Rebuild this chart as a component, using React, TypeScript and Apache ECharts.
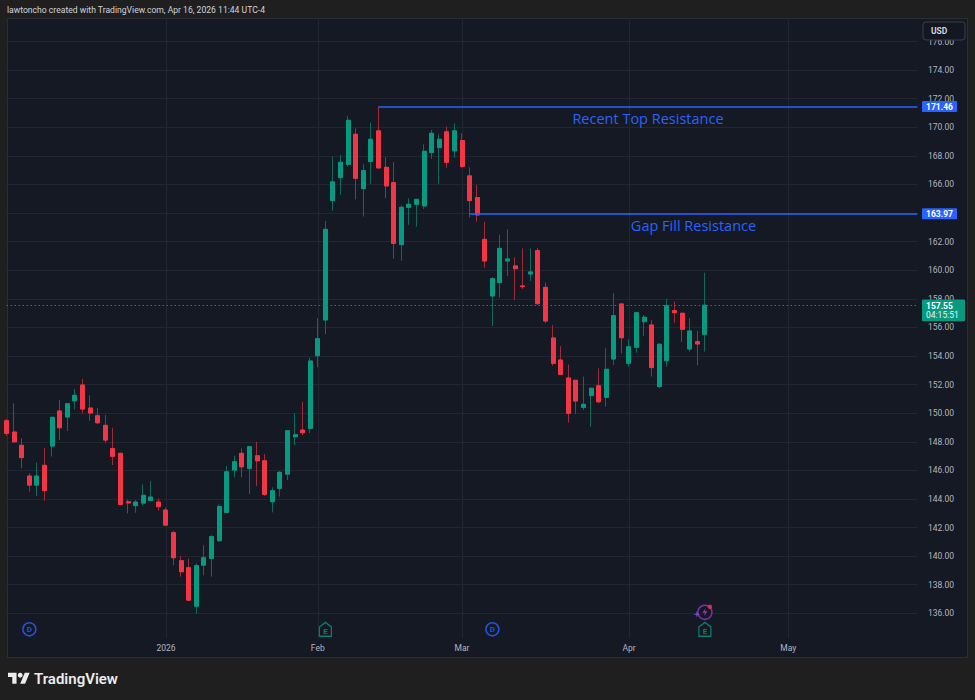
import React, { useEffect, useRef } from 'react';
import * as echarts from 'echarts';

// ---------- data ----------
const candleDates = [
  '2025-12-02','2025-12-03','2025-12-04','2025-12-05','2025-12-08','2025-12-09','2025-12-10','2025-12-11','2025-12-12',
  '2025-12-15','2025-12-16','2025-12-17','2025-12-18','2025-12-19','2025-12-22','2025-12-23','2025-12-24','2025-12-26',
  '2025-12-29','2025-12-30','2025-12-31',
  '2026-01-02','2026-01-05','2026-01-06','2026-01-07','2026-01-08','2026-01-09','2026-01-12','2026-01-13','2026-01-14',
  '2026-01-15','2026-01-16','2026-01-20','2026-01-21','2026-01-22','2026-01-23','2026-01-26','2026-01-27','2026-01-28',
  '2026-01-29','2026-01-30',
  '2026-02-02','2026-02-03','2026-02-04','2026-02-05','2026-02-06','2026-02-09','2026-02-10','2026-02-11','2026-02-12',
  '2026-02-13','2026-02-17','2026-02-18','2026-02-19','2026-02-20','2026-02-23','2026-02-24','2026-02-25','2026-02-26',
  '2026-02-27',
  '2026-03-02','2026-03-03','2026-03-04','2026-03-05','2026-03-06','2026-03-09','2026-03-10','2026-03-11','2026-03-12',
  '2026-03-13','2026-03-16','2026-03-17','2026-03-18','2026-03-19','2026-03-20','2026-03-23','2026-03-24','2026-03-25',
  '2026-03-26','2026-03-27','2026-03-30','2026-03-31',
  '2026-04-01','2026-04-02','2026-04-06','2026-04-07','2026-04-08','2026-04-09','2026-04-10','2026-04-13','2026-04-14',
  '2026-04-15','2026-04-16'
];
const futureDates = [
  '2026-04-17','2026-04-20','2026-04-21','2026-04-22','2026-04-23','2026-04-24','2026-04-27','2026-04-28','2026-04-29',
  '2026-04-30','2026-05-01','2026-05-04','2026-05-05','2026-05-06','2026-05-07','2026-05-08','2026-05-11','2026-05-12',
  '2026-05-13','2026-05-14','2026-05-15','2026-05-18','2026-05-19','2026-05-20','2026-05-21','2026-05-22','2026-05-26',
  '2026-05-27'
];
const opens = [
  149.47,148.68,147.75,145.60,144.97,146.35,147.70,150.15,149.73,150.87,151.97,150.36,149.82,149.15,147.52,147.19,143.80,143.53,143.71,143.90,143.78,
  143.22,141.64,139.68,139.19,136.50,139.37,139.84,141.08,143.06,146.02,147.19,146.14,147.02,146.67,143.81,144.74,145.74,148.35,148.82,148.94,
  154.02,156.52,164.87,166.48,167.41,169.51,165.71,167.60,169.75,167.20,166.13,161.79,164.40,164.61,164.50,168.23,168.58,169.68,168.35,
  169.07,166.60,165.08,162.16,158.20,159.13,160.65,160.30,158.90,159.74,161.37,158.80,155.26,153.72,152.46,152.30,150.41,151.23,151.92,151.11,153.79,157.64,
  153.49,154.61,156.40,156.17,151.86,153.67,157.17,156.99,154.49,155.00,155.52
];
const closes = [
  148.59,148.00,146.89,144.97,145.60,144.58,149.71,148.98,150.66,151.25,150.29,150.01,149.33,148.12,146.98,143.62,143.72,143.78,144.25,144.13,143.46,
  142.17,139.89,138.91,136.92,139.33,139.89,141.36,143.46,145.90,146.60,146.25,147.65,146.67,144.32,144.57,145.86,148.77,148.49,148.63,153.65,
  155.21,162.86,166.18,167.55,170.49,166.43,166.97,169.16,167.16,165.90,161.88,164.40,164.61,164.96,168.32,169.58,169.16,167.55,169.75,
  167.25,164.87,163.87,160.65,159.41,161.53,160.79,160.11,158.85,159.88,157.66,156.45,153.49,152.72,149.99,150.85,150.62,151.74,150.80,153.07,156.82,155.28,
  154.65,157.03,156.71,153.19,154.82,157.52,157.03,155.87,155.75,154.84,157.55
];
const lows = [
  148.40,147.93,146.14,144.51,144.20,143.88,146.96,148.12,148.75,150.27,149.99,149.47,149.24,147.93,146.37,143.55,142.99,143.04,143.57,143.88,143.18,
  142.10,139.37,138.56,136.90,135.99,138.67,138.56,141.00,143.00,145.51,145.51,144.34,144.90,144.20,143.06,144.16,145.32,147.77,148.47,148.59,
  153.21,155.52,164.17,165.27,167.25,164.96,163.75,166.04,167.10,165.03,160.81,160.67,163.17,163.05,164.29,167.79,166.04,167.18,167.88,
  167.18,163.70,163.40,160.18,156.10,158.10,159.60,157.92,158.69,159.25,157.57,156.29,153.32,152.67,149.34,149.94,150.22,149.06,150.69,150.46,153.37,154.19,
  153.26,154.23,155.40,152.56,151.74,153.26,156.33,155.00,154.31,153.35,154.31
];
const highs = [
  149.60,150.69,148.24,145.79,146.54,147.56,149.75,150.92,150.69,151.69,152.39,151.25,150.36,149.87,148.98,147.25,143.97,143.92,145.02,145.25,144.04,
  143.39,141.78,140.00,139.82,139.49,140.77,141.47,143.62,146.30,147.02,147.54,147.70,148.00,147.14,144.81,145.95,148.82,149.99,150.80,153.88,
  156.64,163.45,167.95,168.07,170.80,169.93,167.41,170.33,171.46,167.90,167.55,164.54,165.03,164.98,168.81,169.81,169.51,170.05,170.28,
  169.58,167.20,165.97,163.38,159.50,162.47,162.86,160.90,161.53,161.53,161.56,159.13,156.15,154.70,153.40,152.30,152.55,151.80,153.14,154.54,158.39,157.64,
  155.17,157.03,156.87,156.52,154.90,157.99,157.80,157.00,156.64,155.75,159.83
];
const monthTickDates = ['2026-01-02','2026-02-02','2026-03-02','2026-04-01','2026-05-01'];
const monthTickLabels = ['2026','Feb','Mar','Apr','May'];
const resistanceStarts = ['2026-02-12','2026-03-03'];
const resistancePrices = [171.46, 163.97];
const resistanceLabels = ['Recent Top Resistance','Gap Fill Resistance'];
const lastPrice = 157.55;
const countdown = '04:15:51';
const dividendDates = ['2025-12-05','2026-03-06'];
const earningsDates = ['2026-02-03','2026-04-16'];
const newsDates = ['2026-04-16'];
const priceMin = 134;
const priceMax = 178;
const priceStep = 2;
const headerText = 'lawtoncho created with TradingView.com, Apr 16, 2026 11:44 UTC-4';

// ---------- styles ----------
const OUTER = '#1f1f1f';
const PANE = '#151924';
const GRID = '#222633';
const UP = '#089981';
const DOWN = '#f23645';
const WICK_UP = '#0e6b5c';
const WICK_DOWN = '#a02b38';
const BLUE = '#2962ff';
const LABEL = '#b2b5be';
const UI_FONT = 'Roboto, "Liberation Sans", sans-serif';

export default function App() {
  const ref = useRef<HTMLDivElement>(null);

  useEffect(() => {
    if (!ref.current) return;
    const chart = echarts.init(ref.current, null, { renderer: 'svg' });
    const allDates = candleDates.concat(futureDates);
    const lastCat = allDates[allDates.length - 1];

    const wickData = opens.map((o, i) => [o, closes[i], lows[i], highs[i]]);
    const bodyData = opens.map((o, i) => [o, closes[i], Math.min(o, closes[i]), Math.max(o, closes[i])]);

    const isMonthTick = (_i: number, v: string) => monthTickDates.indexOf(v) >= 0;

    const gridLeft = 6.6;
    const gridWidth = 910.8;
    const pxPerUnit = 14.2945;
    const gridTop = 356 - (priceMax - 154) * pxPerUnit;
    const gridHeight = (priceMax - priceMin) * pxPerUnit;

    const markLineData: any[] = resistancePrices.map((p, k) => [
      {
        coord: [resistanceStarts[k], p],
        lineStyle: { color: BLUE, width: 1.5, type: 'solid' },
        label: {
          show: true,
          position: 'insideMiddleBottom',
          distance: 4.5,
          formatter: resistanceLabels[k],
          color: BLUE,
          fontSize: 14.5,
          fontFamily: '"Open Sans", sans-serif',
        },
      },
      { coord: [lastCat, p] },
    ]);
    markLineData.push([
      {
        coord: [candleDates[0], lastPrice],
        lineStyle: { color: '#0b8a74', width: 1, type: [1.5, 2.5] },
        label: { show: false },
      },
      { coord: [lastCat, lastPrice] },
    ]);

    const markerY = 134.88;
    const newsY = 136.07;
    const markerData: any[] = [];
    dividendDates.forEach((d) =>
      markerData.push({
        value: [d, markerY],
        symbol: 'circle',
        symbolSize: 13,
        itemStyle: { color: PANE, borderColor: BLUE, borderWidth: 1.5 },
        label: { show: true, position: 'inside', formatter: 'D', color: BLUE, fontSize: 8, fontWeight: 'bold', fontFamily: UI_FONT },
      })
    );
    earningsDates.forEach((d) =>
      markerData.push({
        value: [d, markerY],
        symbol: 'path://M0,5L6.5,0L13,5L13,15L0,15Z',
        symbolSize: [12, 14],
        itemStyle: { color: PANE, borderColor: UP, borderWidth: 1.3 },
        label: { show: true, position: 'inside', formatter: 'E', color: UP, fontSize: 8, fontWeight: 'bold', fontFamily: UI_FONT, offset: [0, 2] },
      })
    );
    newsDates.forEach((d) => {
      markerData.push({
        value: [d, newsY],
        symbol: 'circle',
        symbolSize: 14,
        itemStyle: { color: PANE, borderColor: '#9c36c4', borderWidth: 1.5 },
      });
      markerData.push({
        value: [d, newsY],
        symbol: 'path://M7,0L1,9L5.5,9L4,16L10,6L5.5,6L7,0Z',
        symbolSize: [5, 8],
        itemStyle: { color: '#a94bd0' },
      });
      markerData.push({
        value: [d, newsY],
        symbol: 'circle',
        symbolSize: 4.5,
        symbolOffset: [5, -5.5],
        itemStyle: { color: DOWN },
      });
      markerData.push({
        value: [d, newsY],
        symbol: 'path://M5,0L6,4L10,5L6,6L5,10L4,6L0,5L4,4Z',
        symbolSize: 7,
        symbolOffset: [-8, 2],
        itemStyle: { color: '#7c5cff' },
      });
    });

    const option: any = {
      animation: false,
      backgroundColor: OUTER,
      grid: [
        { left: gridLeft, width: gridWidth, top: gridTop, height: gridHeight, containLabel: false, outerBoundsMode: 'none' },
        { left: gridLeft, width: gridWidth, top: 18, height: 620, containLabel: false, outerBoundsMode: 'none' },
      ],
      xAxis: [
        { gridIndex: 0, type: 'category', data: allDates, boundaryGap: false, show: false },
        {
          gridIndex: 1,
          type: 'category',
          data: allDates,
          boundaryGap: false,
          axisLine: { show: false },
          axisTick: { show: false },
          axisLabel: {
            interval: isMonthTick,
            formatter: (v: string) => {
              const k = monthTickDates.indexOf(v);
              return k >= 0 ? monthTickLabels[k] : '';
            },
            color: LABEL,
            fontSize: 8.5,
            fontFamily: UI_FONT,
            margin: 5,
          },
          splitLine: { show: true, interval: isMonthTick, lineStyle: { color: GRID, width: 1 } },
        },
      ],
      yAxis: [
        {
          gridIndex: 0,
          type: 'value',
          position: 'right',
          min: priceMin,
          max: priceMax,
          interval: priceStep,
          axisLine: { show: false },
          axisTick: { show: false },
          axisLabel: {
            showMinLabel: false,
            showMaxLabel: false,
            formatter: (v: number) => v.toFixed(2),
            color: LABEL,
            fontSize: 8.5,
            fontFamily: UI_FONT,
            margin: 10.6,
          },
          splitLine: { show: true, showMinLine: false, showMaxLine: false, lineStyle: { color: GRID, width: 1 } },
        },
        { gridIndex: 1, type: 'value', show: false, min: 0, max: 1 },
      ],
      series: [
        {
          type: 'candlestick',
          name: 'wicks',
          xAxisIndex: 0,
          yAxisIndex: 0,
          data: wickData,
          barWidth: 4.5,
          silent: true,
          itemStyle: { color: WICK_UP, color0: WICK_DOWN, borderColor: WICK_UP, borderColor0: WICK_DOWN, borderWidth: 1 },
        },
        {
          type: 'candlestick',
          name: 'bodies',
          xAxisIndex: 0,
          yAxisIndex: 0,
          data: bodyData,
          barWidth: 4.5,
          silent: true,
          itemStyle: { color: UP, color0: DOWN, borderColor: UP, borderColor0: DOWN, borderWidth: 1 },
          markLine: {
            silent: true,
            symbol: ['none', 'none'],
            data: markLineData,
          },
        },
        {
          type: 'scatter',
          xAxisIndex: 0,
          yAxisIndex: 0,
          silent: true,
          z: 5,
          data: markerData,
        },
      ],
    };
    chart.setOption(option);

    const toPx = (x: string, y: number) => chart.convertToPixel({ seriesIndex: 1 }, [x, y]) as number[];
    const rightX = toPx(lastCat, lastPrice)[0];
    const tagX = rightX + 4.6;

    const graphics: any[] = [
      {
        type: 'rect',
        z: -1,
        shape: { x: 7.5, y: 18.5, width: 960, height: 639 },
        style: { fill: PANE, stroke: '#2a2e39', lineWidth: 1 },
      },
      {
        type: 'text',
        x: 7,
        y: 10,
        style: { text: headerText, fill: '#d1d4dc', fontSize: 8.6, fontFamily: UI_FONT, verticalAlign: 'middle', textVerticalAlign: 'middle' },
      },
    ];
    resistancePrices.forEach((p) => {
      const y = toPx(lastCat, p)[1];
      graphics.push({
        type: 'rect',
        z: 10,
        shape: { x: tagX, y: y - 5.3, width: 35, height: 11, r: 1 },
        style: { fill: BLUE },
      });
      graphics.push({
        type: 'text',
        z: 11,
        x: tagX + 17.5,
        y: y + 0.3,
        style: {
          text: p.toFixed(2), fill: '#ffffff', fontSize: 8.5, fontWeight: 'bold', fontFamily: UI_FONT,
          align: 'center', verticalAlign: 'middle', textAlign: 'center', textVerticalAlign: 'middle',
        },
      });
    });
    {
      const y = toPx(lastCat, lastPrice)[1];
      graphics.push({
        type: 'rect',
        z: 10,
        shape: { x: tagX, y: y - 5.7, width: 43, height: 21.7, r: 1 },
        style: { fill: UP },
      });
      graphics.push({
        type: 'text',
        z: 11,
        x: tagX + 4,
        y: y + 0.5,
        style: {
          text: lastPrice.toFixed(2), fill: '#ffffff', fontSize: 8.5, fontWeight: 'bold', fontFamily: UI_FONT,
          align: 'left', verticalAlign: 'middle', textAlign: 'left', textVerticalAlign: 'middle',
        },
      });
      graphics.push({
        type: 'text',
        z: 11,
        x: tagX + 4,
        y: y + 10,
        style: {
          text: countdown, fill: '#e6f4f1', fontSize: 8.5, fontFamily: UI_FONT,
          align: 'left', verticalAlign: 'middle', textAlign: 'left', textVerticalAlign: 'middle',
        },
      });
    }
    // currency box
    graphics.push({
      type: 'rect',
      z: 10,
      shape: { x: 923, y: 22, width: 42, height: 18, r: 3 },
      style: { fill: '#131722', stroke: '#3a3e4a', lineWidth: 1 },
    });
    graphics.push({
      type: 'text',
      z: 11,
      x: 931,
      y: 31,
      style: {
        text: 'USD', fill: '#d1d4dc', fontSize: 8.5, fontWeight: 'bold', fontFamily: UI_FONT,
        align: 'left', verticalAlign: 'middle', textAlign: 'left', textVerticalAlign: 'middle',
      },
    });
    // footer logo
    graphics.push({
      type: 'group',
      x: 8,
      y: 670.3,
      scaleX: 0.61,
      scaleY: 0.61,
      children: [
        { type: 'polygon', shape: { points: [[0, 4], [14, 4], [14, 22], [7, 22], [7, 11], [0, 11]] }, style: { fill: '#ececec' } },
        { type: 'circle', shape: { cx: 20, cy: 8, r: 4 }, style: { fill: '#ececec' } },
        { type: 'polygon', shape: { points: [[20, 22], [28, 22], [35.5, 4], [27.5, 4]] }, style: { fill: '#ececec' } },
      ],
    });
    graphics.push({
      type: 'text',
      x: 34,
      y: 679,
      style: {
        text: 'TradingView', fill: '#ececec', fontSize: 15, fontWeight: 600, fontFamily: UI_FONT,
        verticalAlign: 'middle', textVerticalAlign: 'middle',
      },
    });

    chart.setOption({ graphic: { elements: graphics } });

    return () => chart.dispose();
  }, []);

  return <div ref={ref} style={{ position: 'fixed', left: 0, top: 0, width: 975, height: 700 }} />;
}
